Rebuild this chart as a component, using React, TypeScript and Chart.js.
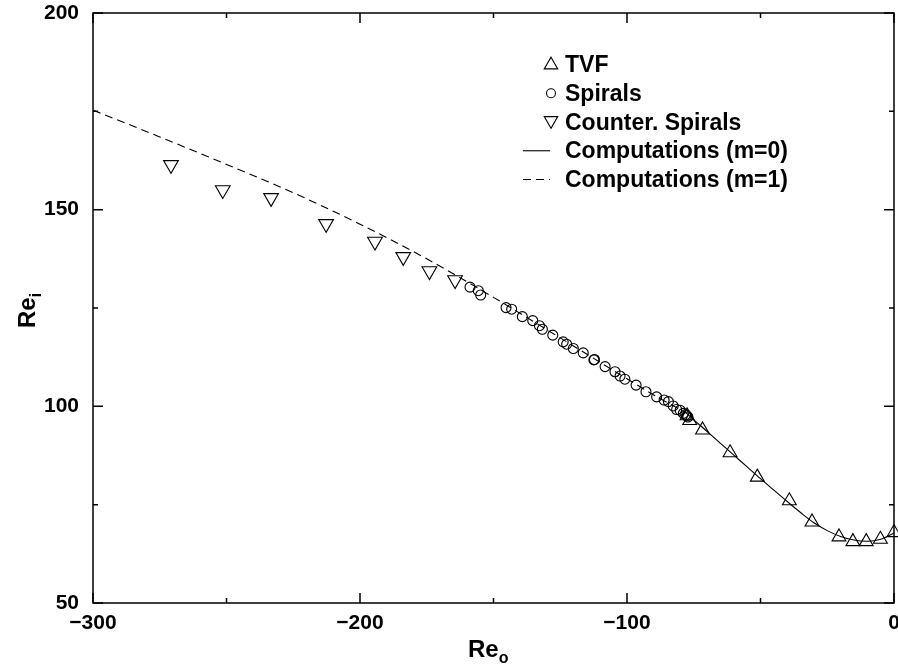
import React, { useEffect, useRef } from 'react';
import { Chart, registerables } from 'chart.js';

Chart.register(...registerables);

// ---------- data ----------
const tvfReO = [-77.5, -76.5, -71.7, -61.4, -51.2, -39.2, -30.7, -20.6, -15.4, -10.4, -5.1, 0];
const tvfReI = [97.6, 96.4, 94.0, 88.2, 82.0, 76.0, 70.6, 66.8, 65.6, 65.6, 66.2, 67.9];

const spiralReO = [-158.8, -155.7, -154.8, -145.3, -143.2, -139.2, -135.3, -132.8, -131.7, -127.8,
  -123.9, -122.6, -120.1, -116.4, -112.4, -112.2, -108.2, -104.5, -102.6, -100.8, -96.6, -92.9,
  -88.9, -86.1, -84.5, -82.7, -81.4, -80.1, -78.9, -78.0, -77.6, -77.2];
const spiralReI = [130.3, 129.4, 128.3, 125.1, 124.7, 122.8, 121.8, 120.5, 119.6, 118.1,
  116.4, 115.8, 114.7, 113.6, 111.8, 111.9, 110.1, 108.8, 107.7, 106.9, 105.4, 103.7,
  102.4, 101.6, 101.2, 100.1, 99.2, 99.0, 98.2, 97.9, 97.6, 97.3];

const counterReO = [-270.8, -251.4, -233.3, -212.7, -194.4, -183.8, -174.0, -164.4];
const counterReI = [161.4, 155.0, 153.0, 146.4, 141.9, 138.0, 134.4, 132.1];

const m0ReO = [-78, -74, -70, -65, -60, -55, -50, -45, -40, -35, -30, -25, -20, -15, -10, -5, 0];
const m0ReI = [98.4, 96.0, 93.6, 90.6, 87.6, 84.6, 81.6, 78.7, 75.8, 73.0, 70.4, 68.4, 66.9, 66.0, 65.7, 66.2, 67.8];

const m1ReO = [-300, -275, -250, -225, -200, -175, -150, -125, -100, -90, -78];
const m1ReI = [175.3, 168.5, 161.5, 154.3, 146.3, 137.5, 127.7, 117.4, 107.0, 102.9, 98.4];

const seriesLabels = ['TVF', 'Spirals', 'Counter. Spirals', 'Computations (m=0)', 'Computations (m=1)'];

const xMin = -300, xMax = 0, xStep = 50, xLabelEvery = 100;
const yMin = 50, yMax = 200, yStep = 25, yLabelEvery = 50;

const FONT = '"Liberation Sans", Arial, Helvetica, sans-serif';

const zip = (xs: number[], ys: number[]) => xs.map((x, i) => ({ x, y: ys[i] }));

const fmt = (v: number) => (v < 0 ? '\u2212' + Math.abs(v) : String(v));

function drawMarker(ctx: CanvasRenderingContext2D, style: string, rot: number, r: number, x: number, y: number) {
  ctx.beginPath();
  if (style === 'circle') {
    ctx.arc(x, y, r, 0, Math.PI * 2);
  } else {
    let rad = (rot * Math.PI) / 180;
    ctx.moveTo(x + Math.sin(rad) * r, y - Math.cos(rad) * r);
    rad += (2 * Math.PI) / 3;
    ctx.lineTo(x + Math.sin(rad) * r, y - Math.cos(rad) * r);
    rad += (2 * Math.PI) / 3;
    ctx.lineTo(x + Math.sin(rad) * r, y - Math.cos(rad) * r);
    ctx.closePath();
  }
  ctx.stroke();
}

const decorPlugin = {
  id: 'decor',
  afterDatasetsDraw(chart: any) {
    const ctx: CanvasRenderingContext2D = chart.ctx;
    const { left, right, top, bottom } = chart.chartArea;
    const xs = chart.scales.x;
    const ys = chart.scales.y;
    ctx.save();
    ctx.strokeStyle = '#000';
    ctx.fillStyle = '#000';
    ctx.lineWidth = 1.5;
    ctx.setLineDash([]);
    ctx.strokeRect(left, top, right - left, bottom - top);
    // inward ticks on all four sides
    xs.ticks.forEach((t: any) => {
      const px = xs.getPixelForValue(t.value);
      const len = Math.abs(t.value % xLabelEvery) < 1e-9 ? 10 : 5;
      ctx.beginPath();
      ctx.moveTo(px, bottom);
      ctx.lineTo(px, bottom - len);
      ctx.moveTo(px, top);
      ctx.lineTo(px, top + len);
      ctx.stroke();
    });
    ys.ticks.forEach((t: any) => {
      const py = ys.getPixelForValue(t.value);
      const len = Math.abs(t.value % yLabelEvery) < 1e-9 ? 10 : 5;
      ctx.beginPath();
      ctx.moveTo(left, py);
      ctx.lineTo(left + len, py);
      ctx.moveTo(right, py);
      ctx.lineTo(right - len, py);
      ctx.stroke();
    });

    // axis titles with subscripts
    ctx.textBaseline = 'alphabetic';
    ctx.textAlign = 'left';
    ctx.font = `bold 24px ${FONT}`;
    const reW = ctx.measureText('Re').width;
    ctx.fillText('Re', 468, 657);
    ctx.font = `bold 16px ${FONT}`;
    ctx.fillText('o', 468 + reW, 663);

    ctx.save();
    ctx.translate(35, 328);
    ctx.rotate(-Math.PI / 2);
    ctx.font = `bold 24px ${FONT}`;
    ctx.fillText('Re', 0, 0);
    ctx.font = `bold 16px ${FONT}`;
    ctx.fillText('i', reW, 6);
    ctx.restore();

    // legend
    const symX = 551;
    const textX = 565;
    chart.data.datasets.forEach((ds: any, i: number) => {
      const base = 72 + i * 28.75;
      ctx.lineWidth = 1.1;
      if (ds.showLine) {
        ctx.setLineDash(ds.borderDash || []);
        ctx.beginPath();
        ctx.moveTo(523, base - 7.5);
        ctx.lineTo(550, base - 7.5);
        ctx.stroke();
        ctx.setLineDash([]);
      } else {
        const style = ds.pointStyle;
        const r = style === 'circle' ? 4.5 : 7.8;
        const yy = style === 'circle' ? base - 7.5 : ds.rotation ? base - 9 : base - 7;
        drawMarker(ctx, style, ds.rotation || 0, r, symX, yy);
      }
      ctx.font = `bold 23px ${FONT}`;
      ctx.fillText(ds.label, textX, base);
    });
    ctx.restore();
  },
};

export default function App() {
  const ref = useRef<HTMLCanvasElement | null>(null);
  useEffect(() => {
    document.body.style.margin = '0';
    const canvas = ref.current!;
    const chart = new Chart(canvas, {
      type: 'scatter',
      data: {
        datasets: [
          {
            label: seriesLabels[0],
            data: zip(tvfReO, tvfReI),
            showLine: false,
            pointStyle: 'triangle',
            pointRadius: 8,
            borderColor: '#000',
            backgroundColor: 'rgba(0,0,0,0)',
            pointBorderWidth: 1.1,
            clip: false as any,
          },
          {
            label: seriesLabels[1],
            data: zip(spiralReO, spiralReI),
            showLine: false,
            pointStyle: 'circle',
            pointRadius: 5,
            borderColor: '#000',
            backgroundColor: 'rgba(0,0,0,0)',
            pointBorderWidth: 1.1,
          },
          {
            label: seriesLabels[2],
            data: zip(counterReO, counterReI),
            showLine: false,
            pointStyle: 'triangle',
            rotation: 180,
            pointRadius: 8.5,
            borderColor: '#000',
            backgroundColor: 'rgba(0,0,0,0)',
            pointBorderWidth: 1.1,
          } as any,
          {
            label: seriesLabels[3],
            data: zip(m0ReO, m0ReI),
            showLine: true,
            pointRadius: 0,
            borderColor: '#000',
            borderWidth: 1.1,
            cubicInterpolationMode: 'monotone',
          },
          {
            label: seriesLabels[4],
            data: zip(m1ReO, m1ReI),
            showLine: true,
            pointRadius: 0,
            borderColor: '#000',
            borderWidth: 1.1,
            borderDash: [8, 5],
            cubicInterpolationMode: 'monotone',
          },
        ],
      },
      options: {
        responsive: false,
        animation: false,
        devicePixelRatio: 1,
        layout: { autoPadding: false, padding: { top: 13, right: 4, left: 0, bottom: 0 } },
        plugins: { legend: { display: false }, tooltip: { enabled: false } },
        scales: {
          x: {
            type: 'linear',
            min: xMin,
            max: xMax,
            grid: { display: false, drawTicks: false },
            border: { display: false },
            ticks: {
              stepSize: xStep,
              autoSkip: false,
              maxRotation: 0,
              padding: 8,
              color: '#000',
              font: { family: FONT, size: 21, weight: 'bold' },
              callback: (v: any) => (Math.abs(Number(v) % xLabelEvery) < 1e-9 ? fmt(Number(v)) : ''),
            },
            afterFit: (s: any) => {
              s.height = 65;
              s.paddingLeft = 0;
              s.paddingRight = 0;
            },
          },
          y: {
            type: 'linear',
            min: yMin,
            max: yMax,
            grid: { display: false, drawTicks: false },
            border: { display: false },
            ticks: {
              stepSize: yStep,
              autoSkip: false,
              padding: 14,
              color: '#000',
              font: { family: FONT, size: 21, weight: 'bold' },
              callback: (v: any) => (Math.abs(Number(v) % yLabelEvery) < 1e-9 ? fmt(Number(v)) : ''),
            },
            afterFit: (s: any) => {
              s.width = 93;
              s.paddingTop = 0;
              s.paddingBottom = 0;
            },
          },
        },
      } as any,
      plugins: [decorPlugin],
    });
    return () => chart.destroy();
  }, []);
  return <canvas ref={ref} width={898} height={668} style={{ display: 'block', width: '898px', height: '668px' }} />;
}
